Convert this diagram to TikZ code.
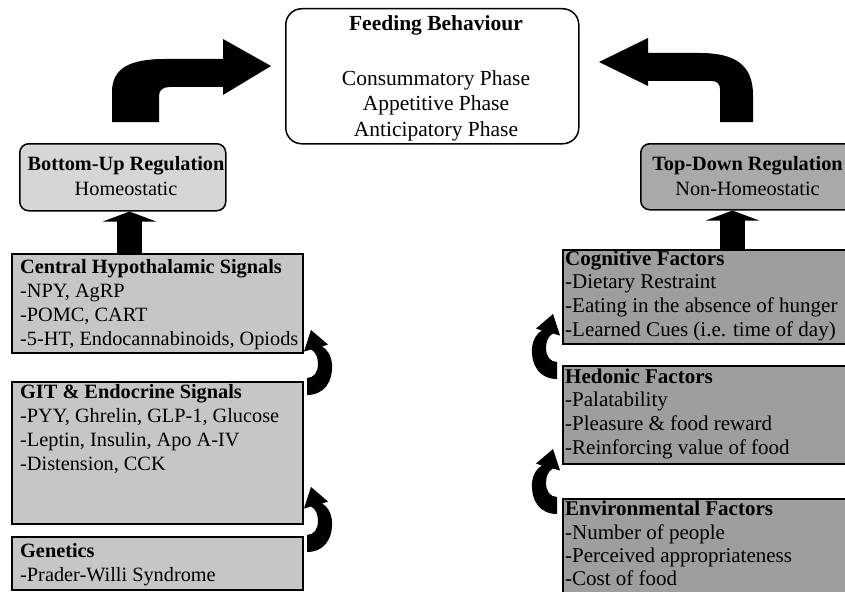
\documentclass[tikz,border=0pt]{standalone}
\usepackage{fontspec}
\setmainfont{Liberation Serif}
\usetikzlibrary{arrows.meta}
\definecolor{leftfill}{HTML}{C6C6C6}
\definecolor{bufill}{HTML}{D6D6D6}
\definecolor{rightfill}{HTML}{9E9E9E}
\definecolor{tdfill}{HTML}{A9A9A9}
\tikzset{
  curlarrow/.pic={
    \fill[black] (0,0) -- (0,17) .. controls (17,17) and (26,4) .. (25,-14)
      .. controls (24,-23) and (20,-29) .. (15,-31.5) -- (21,-33.5) -- (4,-48)
      -- (-3,-26.5) -- (4,-28.5) .. controls (9,-26) and (11,-20) .. (11,-14)
      .. controls (11,-6) and (7,0) .. (0,0) -- cycle;
  }
}
\begin{document}
\begin{tikzpicture}[x=1pt,y=-1pt,
  boxbase/.style={draw=black, line width=1.5pt, inner sep=0pt, anchor=north west},
  lbox/.style={boxbase, fill=leftfill},
  rbox/.style={boxbase, fill=rightfill},
  txt/.style={inner sep=0pt, anchor=north west, align=left,
    font=\fontsize{20.3pt}{24pt}\selectfont},
  rtxt/.style={txt, font=\fontsize{21pt}{23.8pt}\selectfont},
  regbox/.style={draw=black, line width=1.5pt, rounded corners=9pt, inner sep=0pt,
    anchor=north west},
  regtxt/.style={inner sep=0pt, align=center, font=\fontsize{20.3pt}{25pt}\selectfont},
  vup/.style={line width=25pt, -{Triangle[width=53pt,length=10pt]}},
  bigarrow/.style={fill=black},
]
\useasboundingbox (0,0) rectangle (845,591);
\clip (0,0) rectangle (845,591);

% Feeding behaviour
\node[regbox, fill=white, rounded corners=16pt, minimum width=293pt, minimum height=135pt]
  (feeding) at (285,8) {};
\node[inner sep=0pt, anchor=north, align=center, font=\fontsize{21.5pt}{25.5pt}\selectfont]
  (feedtxt) at (436,12.3)
  {\strut\textbf{Feeding Behaviour}\\[29.5pt]Consummatory Phase\\Appetitive Phase\\Anticipatory Phase};

% Regulation boxes
\node[regbox, fill=bufill, minimum width=206pt, minimum height=67pt] (bottomup) at (19,143) {};
\node[regtxt] (butxt) at (126,176.5) {\textbf{Bottom-Up Regulation}\\Homeostatic};
\node[regbox, fill=tdfill, minimum width=215pt, minimum height=66pt] (topdown) at (640,143) {};
\node[regtxt] (tdtxt) at (747.5,176.5) {\textbf{Top-Down Regulation}\\Non-Homeostatic};

% Left boxes
\node[lbox, minimum width=291pt, minimum height=99pt] (central) at (11,253) {};
\node[txt] (centraltxt) at (20,256.2)
  {\strut\textbf{Central Hypothalamic Signals}\\-NPY, AgRP\\-POMC, CART\\-5-HT, Endocannabinoids, Opiods};
\node[lbox, minimum width=291pt, minimum height=142pt] (git) at (11,381) {};
\node[txt] (gittxt) at (20,381.2)
  {\strut\textbf{GIT \& Endocrine Signals}\\-PYY, Ghrelin, GLP-1, Glucose\\-Leptin, Insulin, Apo A-IV\\-Distension, CCK};
\node[lbox, minimum width=291pt, minimum height=53pt] (genetics) at (11,536) {};
\node[txt] (genetxt) at (20,540.2)
  {\strut\textbf{Genetics}\\-Prader-Willi Syndrome};

% Right boxes
\node[rbox, minimum width=295pt, minimum height=94pt] (cognitive) at (562,249) {};
\node[rtxt] (cogtxt) at (565,248.2)
  {\strut\textbf{Cognitive Factors}\\-Dietary Restraint\\-Eating in the absence of hunger\\-Learned Cues (i.e. time of day)};
\node[rbox, minimum width=295pt, minimum height=98pt] (hedonic) at (562,365) {};
\node[rtxt] (hedtxt) at (565,366.2)
  {\strut\textbf{Hedonic Factors}\\-Palatability\\-Pleasure \& food reward\\-Reinforcing value of food};
\node[rbox, minimum width=295pt, minimum height=110pt] (environ) at (562,498) {};
\node[rtxt, font=\fontsize{21pt}{23.2pt}\selectfont] (envtxt) at (565,499.5)
  {\strut\textbf{Environmental Factors}\\-Number of people\\-Perceived appropriateness\\-Cost of food};

% Straight up arrows
\coordinate (lupx) at (129.5,0);
\coordinate (rupx) at (732.5,0);
\draw[vup] (lupx |- central.north) -- (lupx |- bottomup.south);
\draw[vup] (rupx |- cognitive.north) -- (rupx |- topdown.south);

% Big bent arrows
\fill[bigarrow] (112,122) -- (112,92) .. controls (112,68) and (130,59) .. (165,59)
  -- (223,59) -- (223,39) -- (271,66) -- (223,95) -- (223,87) -- (170,87)
  .. controls (163,87) and (159,90) .. (159,96) -- (159,122) -- cycle;
\fill[bigarrow] (753,122) -- (753,95) .. controls (753,65) and (735,53) .. (700,53)
  -- (648,53) -- (648,38) -- (599,62) -- (648,86) -- (648,81) -- (712,81)
  .. controls (717,81) and (720,84) .. (720,89) -- (720,122) -- cycle;

% Small curled arrows
\pic at (307,378) {curlarrow};
\pic at (307,535) {curlarrow};
\pic[xscale=-1] at (557,362) {curlarrow};
\pic[xscale=-1] at (557,497) {curlarrow};
\end{tikzpicture}
\end{document}
